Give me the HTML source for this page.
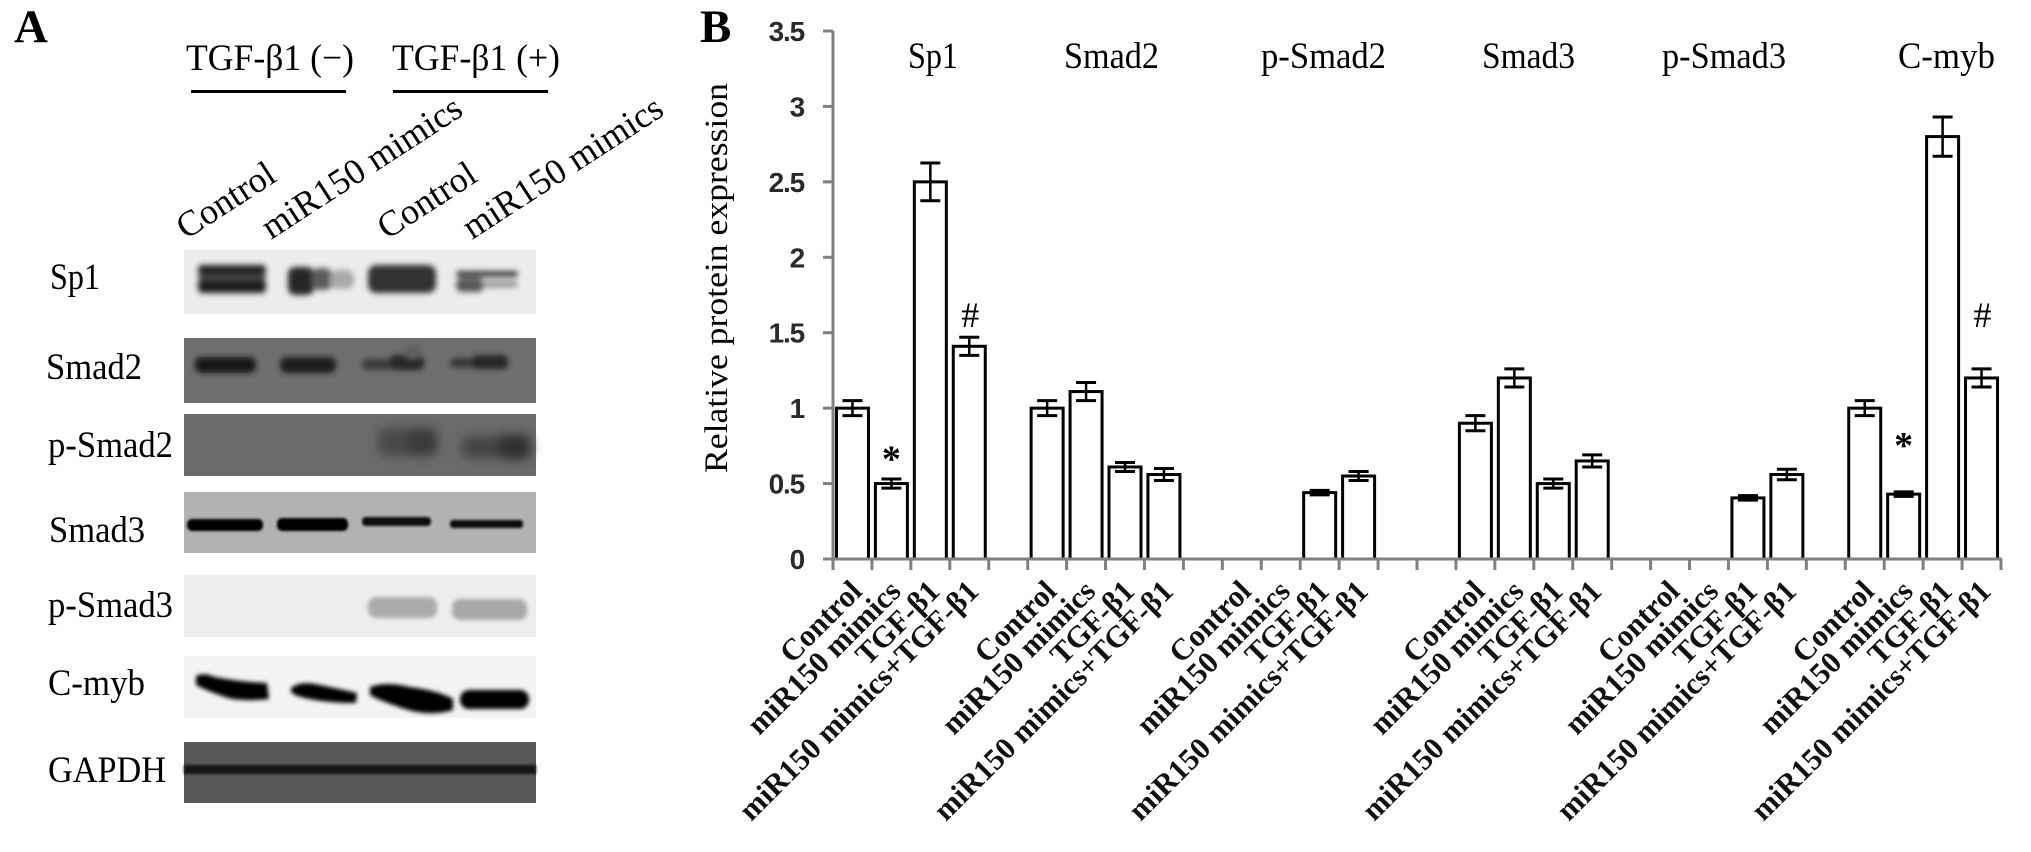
<!DOCTYPE html>
<html>
<head>
<meta charset="utf-8">
<title>Protein expression figure</title>
<style>
html,body{margin:0;padding:0;background:#fff;}
#fig{display:block;width:2031px;height:852px;background:#fff;}
text{font-family:"Liberation Serif",serif;fill:#000;}
.lab{font-size:37px;}
.rot{font-size:36px;}
</style>
</head>
<body>
<svg id="fig" xmlns="http://www.w3.org/2000/svg" width="2031" height="852" viewBox="0 0 2031 852">
<defs>
<filter id="b4" x="-30%" y="-60%" width="160%" height="220%"><feGaussianBlur stdDeviation="5"/></filter>
<filter id="b3" x="-30%" y="-60%" width="160%" height="220%"><feGaussianBlur stdDeviation="3"/></filter>
<filter id="b2" x="-30%" y="-60%" width="160%" height="220%"><feGaussianBlur stdDeviation="2"/></filter>
<filter id="b1" x="-10%" y="-80%" width="120%" height="260%"><feGaussianBlur stdDeviation="1.2"/></filter>
</defs>

<g>
<text x="14" y="42" font-size="47" font-weight="bold">A</text>
<text class="lab" x="186" y="70" textLength="168" lengthAdjust="spacingAndGlyphs">TGF-β1 (−)</text>
<text class="lab" x="392" y="70" textLength="168" lengthAdjust="spacingAndGlyphs">TGF-β1 (+)</text>
<rect x="191" y="90" width="155" height="3"/>
<rect x="393" y="90" width="155" height="3"/>
<text class="rot" transform="translate(186,240) rotate(-33)">Control</text>
<text class="rot" transform="translate(271,240) rotate(-33)">miR150 mimics</text>
<text class="rot" transform="translate(387,240) rotate(-33)">Control</text>
<text class="rot" transform="translate(472,240) rotate(-33)">miR150 mimics</text>

<text class="lab" x="50" y="289" textLength="50" lengthAdjust="spacingAndGlyphs">Sp1</text>
<text class="lab" x="46" y="379" textLength="96" lengthAdjust="spacingAndGlyphs">Smad2</text>
<text class="lab" x="48" y="457" textLength="125" lengthAdjust="spacingAndGlyphs">p-Smad2</text>
<text class="lab" x="49" y="542" textLength="96" lengthAdjust="spacingAndGlyphs">Smad3</text>
<text class="lab" x="48" y="617" textLength="125" lengthAdjust="spacingAndGlyphs">p-Smad3</text>
<text class="lab" x="48" y="695" textLength="97" lengthAdjust="spacingAndGlyphs">C-myb</text>
<text class="lab" x="48" y="782" textLength="118" lengthAdjust="spacingAndGlyphs">GAPDH</text>

<g>
<rect x="184" y="250" width="352" height="64" fill="#ececec"/>
<g filter="url(#b3)">
<rect x="198" y="265" width="68" height="10" rx="4" fill="#202020"/>
<rect x="198" y="275" width="68" height="5" fill="#4a4a4a"/>
<rect x="198" y="280" width="68" height="13" rx="4" fill="#1a1a1a"/>
<rect x="288" y="267" width="26" height="28" rx="7" fill="#282828"/>
<rect x="312" y="268" width="20" height="22" rx="7" fill="#5c5c5c"/>
<rect x="330" y="270" width="24" height="19" rx="8" fill="#a8a8a8"/>
<rect x="368" y="265" width="68" height="28" rx="8" fill="#333"/>
<rect x="456" y="271" width="62" height="6" rx="3" fill="#3a3a3a"/>
<rect x="456" y="278" width="28" height="14" rx="6" fill="#585858"/>
<rect x="482" y="280" width="36" height="8" rx="4" fill="#a0a0a0"/>
</g>
</g>
<g>
<rect x="184" y="338" width="352" height="65" fill="#6f6f6f"/>
<g filter="url(#b3)">
<rect x="195" y="357" width="61" height="16" rx="7" fill="#181818"/>
<rect x="280" y="357" width="56" height="16" rx="7" fill="#1f1f1f"/>
<rect x="362" y="359" width="30" height="11" rx="5" fill="#3b3b3b"/>
<rect x="390" y="355" width="34" height="15" rx="5" fill="#282828"/>
<rect x="405" y="345" width="16" height="14" rx="5" fill="#5e5e5e"/>
<rect x="450" y="358" width="24" height="10" rx="5" fill="#383838"/>
<rect x="472" y="355" width="36" height="14" rx="5" fill="#262626"/>
</g>
</g>
<g>
<rect x="184" y="414" width="352" height="62" fill="#6b6b6b"/>
<g filter="url(#b4)">
<rect x="378" y="428" width="60" height="28" rx="8" fill="#4a4a4a"/>
<rect x="408" y="428" width="28" height="28" rx="8" fill="#3a3a3a"/>
<rect x="462" y="436" width="70" height="22" rx="8" fill="#454545"/>
<rect x="498" y="434" width="32" height="26" rx="8" fill="#333"/>
</g>
</g>
<g>
<rect x="184" y="492" width="352" height="61" fill="#b2b2b2"/>
<g filter="url(#b1)">
<rect x="187" y="519" width="76" height="12" rx="5" fill="#050505"/>
<rect x="277" y="518" width="71" height="13" rx="5" fill="#050505"/>
<rect x="362" y="517" width="69" height="9" rx="4" fill="#0c0c0c"/>
<rect x="450" y="520" width="73" height="8" rx="3" fill="#0c0c0c"/>
</g>
</g>
<g>
<rect x="184" y="575" width="352" height="62" fill="#ededed"/>
<g filter="url(#b2)">
<rect x="368" y="597" width="69" height="21" rx="8" fill="#ababab"/>
<rect x="452" y="599" width="75" height="21" rx="8" fill="#a8a8a8"/>
</g>
</g>
<g>
<rect x="184" y="656" width="352" height="62" fill="#f3f3f3"/>
<g filter="url(#b2)">
<path d="M196 676 Q204 672 215 677 Q240 682 267 683 L269 699 Q240 702 225 697 Q205 690 196 685Z" fill="#050505"/>
<path d="M291 688 Q300 681 315 684 Q340 689 357 693 L356 703 Q325 703 305 698 Q295 696 291 692Z" fill="#050505"/>
<path d="M370 687 Q385 681 410 687 Q440 691 453 699 L453 710 Q430 717 405 709 Q380 701 370 695Z" fill="#020202"/>
<rect x="460" y="690" width="69" height="19" rx="9" fill="#020202"/>
</g>
</g>
<g>
<rect x="184" y="742" width="352" height="61" fill="#585858"/>
<rect x="184" y="765" width="352" height="9" fill="#171717" filter="url(#b1)"/>
</g>
</g>

<g id="panel-b">
<text x="700" y="42" font-size="47" font-weight="bold">B</text>
<text font-size="33" textLength="390" lengthAdjust="spacingAndGlyphs" transform="translate(727,473) rotate(-90)">Relative protein expression</text>
<text class="lab" x="908" y="68" textLength="50" lengthAdjust="spacingAndGlyphs">Sp1</text>
<text class="lab" x="1064" y="68" textLength="95" lengthAdjust="spacingAndGlyphs">Smad2</text>
<text class="lab" x="1261" y="68" textLength="125" lengthAdjust="spacingAndGlyphs">p-Smad2</text>
<text class="lab" x="1482" y="68" textLength="93" lengthAdjust="spacingAndGlyphs">Smad3</text>
<text class="lab" x="1662" y="68" textLength="124" lengthAdjust="spacingAndGlyphs">p-Smad3</text>
<text class="lab" x="1898" y="68" textLength="97" lengthAdjust="spacingAndGlyphs">C-myb</text>
</g>
</svg>
<script>
// Chart data
const categoryLabels = [
  "Control","miR150 mimics","TGF-β1","miR150 mimics+TGF-β1","",
  "Control","miR150 mimics","TGF-β1","miR150 mimics+TGF-β1","",
  "Control","miR150 mimics","TGF-β1","miR150 mimics+TGF-β1","","",
  "Control","miR150 mimics","TGF-β1","miR150 mimics+TGF-β1","",
  "Control","miR150 mimics","TGF-β1","miR150 mimics+TGF-β1","",
  "Control","miR150 mimics","TGF-β1","miR150 mimics+TGF-β1"
];
const seriesValues = [
  1.0,0.5,2.5,1.41,null,
  1.0,1.11,0.61,0.56,null,
  null,null,0.44,0.55,null,null,
  0.9,1.2,0.5,0.65,null,
  null,null,0.405,0.56,null,
  1.0,0.43,2.8,1.2
];
const seriesErrors = [
  0.05,0.03,0.125,0.06,null,
  0.05,0.06,0.03,0.04,null,
  null,null,0.015,0.03,null,null,
  0.05,0.06,0.03,0.04,null,
  null,null,0.015,0.035,null,
  0.05,0.015,0.13,0.06
];
const significanceMarks = ["","*","","#","","","","","","","","","","","","","","","","","","","","","","","","*","","#"];
const significanceLevels = [null,0.58,null,1.55,null,null,null,null,null,null,null,null,null,null,null,null,null,null,null,null,null,null,null,null,null,null,null,0.67,null,1.55];
const yTickValues = [0,0.5,1,1.5,2,2.5,3,3.5];
const yTickLabels = ["0","0.5","1","1.5","2","2.5","3","3.5"];

const yMax = 3.5;
const plotLeft = 833, plotRight = 2001, plotBottom = 559, plotTop = 31;
function xBand(){ return (plotRight - plotLeft) / categoryLabels.length; }
function xCenter(i){ return plotLeft + (i + 0.5) * xBand(); }
function xEdge(i){ return plotLeft + i * xBand(); }
function yScale(v){ return plotBottom - (v / yMax) * (plotBottom - plotTop); }

const NS = "http://www.w3.org/2000/svg";
const panel = document.getElementById("panel-b");
function mk(tag, props){
  const el = document.createElementNS(NS, tag);
  for (const k in props) el.setAttribute(k, props[k]);
  panel.appendChild(el);
  return el;
}
function seg(x1, y1, x2, y2, color, w){
  return mk("line", {x1:x1, y1:y1, x2:x2, y2:y2, stroke:color, "stroke-width":w});
}

// Bars and error bars
seriesValues.forEach(function(v, i){
  if (v === null) return;
  const cx = xCenter(i), top = yScale(v), bw = 32;
  const bar = mk("rect", {x:cx-bw/2, y:top, width:bw, height:plotBottom-top, fill:"#fff", stroke:"#000", "stroke-width":3});
  
  
  const e = seriesErrors[i];
  const yHi = yScale(v + e), yLo = yScale(v - e);
  const stem = seg(cx, yHi, cx, yLo, "#000", 2.5);
  
  
  const capHi = seg(cx-10, yHi, cx+10, yHi, "#000", 3);
  
  
  const capLo = seg(cx-10, yLo, cx+10, yLo, "#000", 3);
  
  
  const mark = significanceMarks[i];
  if (mark) {
    const isStar = mark === "*";
    const t = mk("text", {x:cx+(isStar ? 0 : 1), y:yScale(significanceLevels[i]) + (isStar ? 0 : 2), "text-anchor":"middle", "font-size":isStar ? 38 : 36, "font-weight":isStar ? "bold" : "normal"});
    t.textContent = mark;
    
    
  }
});

// Axes
const yAxis = seg(plotLeft, plotTop, plotLeft, plotBottom + 1, "#808080", 3);


const xAxis = seg(plotLeft - 10, plotBottom, plotRight + 1, plotBottom, "#808080", 3);



yTickValues.forEach(function(v, i){
  const y = yScale(v);
  const tick = seg(plotLeft - 10, y, plotLeft, y, "#808080", 3);
  
  
  const label = mk("text", {x:804, y:y+10, "text-anchor":"end", "font-size":28, "letter-spacing":"-1.2", "font-weight":"bold"});
  label.style.fontFamily = '"Liberation Sans", sans-serif';
  label.style.fill = "#2a2a2a";
  label.textContent = yTickLabels[i];
  
  
});

for (let i = 0; i <= categoryLabels.length; i++) {
  const x = xEdge(i);
  const tick = seg(x, plotBottom, x, plotBottom + 11, "#808080", 3);
  
  
}

categoryLabels.forEach(function(name, i){
  if (!name) return;
  const tx = xCenter(i) + 11, ty = 593;
  const label = mk("text", {"text-anchor":"end", "font-size":30.5, "font-weight":"bold", transform:"translate(" + tx + "," + ty + ") rotate(-45)"});
  label.style.fill = "#111";
  label.textContent = name;
  
  
});
</script>
</body>
</html>
